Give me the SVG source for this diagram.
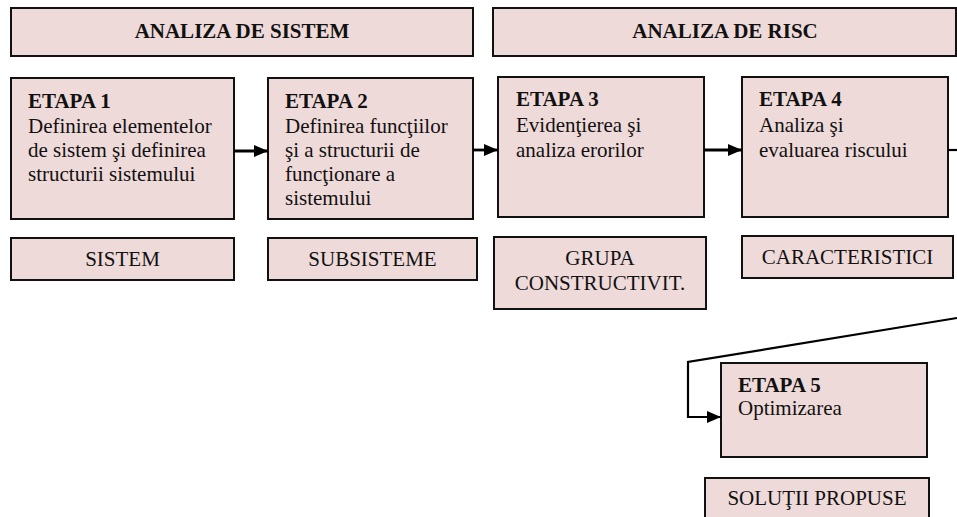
<svg xmlns="http://www.w3.org/2000/svg" width="957" height="517" viewBox="0 0 957 517">
  <style>
    .box { fill: #efdada; stroke: #111; stroke-width: 2; }
    .t { font-family: "Liberation Serif", "Times New Roman", serif; font-size: 21px; fill: #111; }
    .b { font-weight: bold; }
    .c { text-anchor: middle; }
    .link { fill: none; stroke: #000; stroke-width: 2.8; }
    .thin { fill: none; stroke: #000; stroke-width: 2.2; }
  </style>
  <defs>
    <marker id="arrow" markerWidth="14" markerHeight="12" refX="14" refY="6" orient="auto" markerUnits="userSpaceOnUse">
      <path d="M0,0 L14,6 L0,12 Z" fill="#000"/>
    </marker>
  </defs>
  <rect width="957" height="517" fill="#fff"/>

  <!-- section headers -->
  <g id="hdr-sistem">
    <rect class="box" x="11" y="8" width="462" height="48"/>
    <text class="t b c" x="242" y="38">ANALIZA DE SISTEM</text>
  </g>
  <g id="hdr-risc">
    <rect class="box" x="493" y="8" width="463" height="48"/>
    <text class="t b c" x="725" y="38">ANALIZA DE RISC</text>
  </g>

  <!-- stages -->
  <g id="etapa1">
    <rect class="box" x="11" y="78" width="223" height="141"/>
    <text class="t" x="28" y="108"><tspan class="b">ETAPA 1</tspan><tspan x="28" y="133">Definirea elementelor</tspan><tspan x="28" y="157">de sistem şi definirea</tspan><tspan x="28" y="181">structurii sistemului</tspan></text>
  </g>
  <g id="etapa2">
    <rect class="box" x="268" y="78" width="205" height="141"/>
    <text class="t" x="285" y="108"><tspan class="b">ETAPA 2</tspan><tspan x="285" y="133">Definirea funcţiilor</tspan><tspan x="285" y="157">şi a structurii de</tspan><tspan x="285" y="181">funcţionare a</tspan><tspan x="285" y="205">sistemului</tspan></text>
  </g>
  <g id="etapa3">
    <rect class="box" x="498" y="77" width="206" height="140"/>
    <text class="t" x="516" y="106"><tspan class="b">ETAPA 3</tspan><tspan x="516" y="132">Evidenţierea şi</tspan><tspan x="516" y="157">analiza erorilor</tspan></text>
  </g>
  <g id="etapa4">
    <rect class="box" x="742" y="77" width="206" height="140"/>
    <text class="t" x="759" y="106"><tspan class="b">ETAPA 4</tspan><tspan x="759" y="132">Analiza şi</tspan><tspan x="759" y="157">evaluarea riscului</tspan></text>
  </g>
  <g id="etapa5">
    <rect class="box" x="721" y="363" width="206" height="94"/>
    <text class="t" x="738" y="392"><tspan class="b">ETAPA 5</tspan><tspan x="738" y="415">Optimizarea</tspan></text>
  </g>

  <!-- result labels -->
  <g id="rez-sistem">
    <rect class="box" x="11" y="238" width="223" height="42"/>
    <text class="t c" x="122.5" y="266">SISTEM</text>
  </g>
  <g id="rez-subsisteme">
    <rect class="box" x="268" y="238" width="209" height="42"/>
    <text class="t c" x="372.5" y="266">SUBSISTEME</text>
  </g>
  <g id="rez-grupa">
    <rect class="box" x="494" y="237" width="212" height="72"/>
    <text class="t c" x="600" y="265">GRUPA<tspan x="600" y="290">CONSTRUCTIVIT.</tspan></text>
  </g>
  <g id="rez-caracteristici">
    <rect class="box" x="742" y="236" width="211" height="42"/>
    <text class="t c" x="847.5" y="264">CARACTERISTICI</text>
  </g>
  <g id="rez-solutii">
    <rect class="box" x="705" y="478" width="224" height="45"/>
    <text class="t c" x="817" y="505">SOLUŢII PROPUSE</text>
  </g>

  <!-- connectors -->
  <g id="connectors">
    <line class="link" x1="234" y1="151" x2="268" y2="151" marker-end="url(#arrow)"/>
    <line class="link" x1="473" y1="150" x2="498" y2="150" marker-end="url(#arrow)"/>
    <line class="link" x1="704" y1="150" x2="742" y2="150" marker-end="url(#arrow)"/>
    <line class="thin" x1="948" y1="150" x2="957" y2="150"/>
    <polyline class="thin" points="957,318 688,362 688,417 721,417" marker-end="url(#arrow)"/>
  </g>
</svg>
